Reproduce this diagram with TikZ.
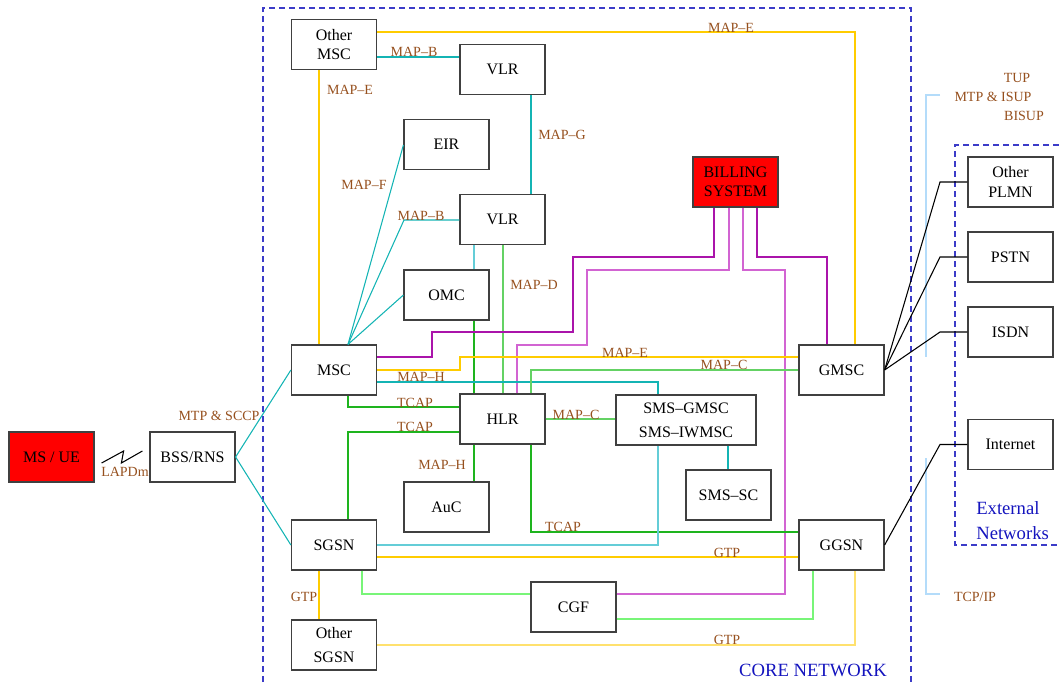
\documentclass[tikz,border=0pt]{standalone}
\usepackage{fontspec}
\setmainfont{Liberation Serif}
\usetikzlibrary{calc}
\definecolor{lbl}{RGB}{150,80,30}
\definecolor{corebl}{RGB}{60,60,200}
\definecolor{txtbl}{RGB}{20,20,190}
\definecolor{yelc}{RGB}{255,204,0}
\definecolor{lyelc}{RGB}{255,225,110}
\definecolor{tealc}{RGB}{20,180,180}
\definecolor{lcyanc}{RGB}{100,205,215}
\definecolor{dgreenc}{RGB}{30,180,30}
\definecolor{lgreenc}{RGB}{100,210,100}
\definecolor{bgreenc}{RGB}{120,245,120}
\definecolor{magc}{RGB}{170,20,170}
\definecolor{lmagc}{RGB}{210,100,210}
\definecolor{brack}{RGB}{180,220,250}
\begin{document}
\begin{tikzpicture}[x=0.75pt,y=-0.75pt,
  box/.style={draw=black!75,line width=0.9pt,fill=white,minimum width=63.75pt,minimum height=37.5pt,inner sep=0pt,align=center,font=\fontsize{12}{14.5}\selectfont},
  redbox/.style={box,fill=red},
  lab/.style={text=lbl,font=\fontsize{10.5}{12}\selectfont,inner sep=0pt},
  bigtxt/.style={text=txtbl,font=\fontsize{14}{19}\selectfont,inner sep=0pt},
  conn/.style={line width=0.8pt},
  yel/.style={conn,draw=yelc},
  lyel/.style={conn,draw=lyelc},
  teal/.style={conn,draw=tealc},
  lcyan/.style={conn,draw=lcyanc},
  dgreen/.style={conn,draw=dgreenc},
  lgreen/.style={conn,draw=lgreenc},
  bgreen/.style={conn,draw=bgreenc},
  mag/.style={conn,draw=magc},
  lmag/.style={conn,draw=lmagc},
  blk/.style={conn,draw=black},
  frame/.style={draw=corebl,line width=0.8pt,dash pattern=on 4.5pt off 3pt},
  bracket/.style={draw=brack,line width=1.5pt}
]
\useasboundingbox (0,0) rectangle (1059,682);

% frames
\draw[frame] (263,682) -- (263,8) -- (911,8) -- (911,682);
\draw[frame] (1059,145) -- (955,145) -- (955,545) -- (1059,545);
\draw[bracket] (940,95) -- (926,95) -- (926,357);
\draw[bracket] (926,458) -- (926,594) -- (940,594);

% nodes
\node[box] (omsc) at (334,44.5) {Other\\MSC};
\node[box] (vlr1) at (502.5,69.5) {VLR};
\node[box] (eir) at (446.5,144.5) {EIR};
\node[box] (vlr2) at (502.5,219.5) {VLR};
\node[box] (omc) at (446.5,295) {OMC};
\node[box] (msc) at (334,370) {MSC};
\node[box] (hlr) at (502.5,419) {HLR};
\node[box,minimum width=105pt,font=\fontsize{12}{18}\selectfont] (smsg) at (686,420) {SMS–GMSC\\SMS–IWMSC};
\node[box] (auc) at (446.5,507) {AuC};
\node[box] (smssc) at (728.5,495) {SMS–SC};
\node[box] (sgsn) at (334,545) {SGSN};
\node[box,font=\fontsize{12}{18.5}\selectfont] (osgsn) at (334,645) {Other\\SGSN};
\node[box] (cgf) at (573.5,607) {CGF};
\node[box] (ggsn) at (841.5,545) {GGSN};
\node[box] (gmsc) at (841.5,370) {GMSC};
\node[redbox] (bill) at (735.5,182) {BILLING\\SYSTEM};
\node[box] (plmn) at (1010.5,182) {Other\\PLMN};
\node[box] (pstn) at (1010.5,257) {PSTN};
\node[box] (isdn) at (1010.5,332) {ISDN};
\node[box] (inet) at (1010.5,444.5) {Internet};
\node[redbox] (msue) at (51.5,457) {MS / UE};
\node[box] (bss) at (192.5,457) {BSS/RNS};

% connectors
\draw[teal] (omsc.east |- 0,57) -- (vlr1.west |- 0,57);
\draw[yel] (omsc.east |- 0,32) -- (855,32) -- (gmsc.north -| 855,0);
\draw[yel] (omsc.south -| 319,0) -- (msc.north -| 319,0);
\draw[teal] (vlr1.south -| 531,0) -- (vlr2.north -| 531,0);
\draw[teal] (msc.north -| 348,0) -- (eir.west |- 0,145);
\draw[teal] (msc.north -| 348,0) -- (404,220) -- (vlr2.west |- 0,220);
\draw[teal] (msc.north -| 348,0) -- (omc.west);
\draw[lcyan] (vlr2.south -| 474,0) -- (omc.north -| 474,0);
\draw[dgreen] (omc.south -| 474,0) -- (hlr.north -| 474,0);
\draw[lgreen] (vlr2.south -| 503,0) -- (hlr.north -| 503,0);
\draw[mag] (msc.east |- 0,357) -- (432,357) -- (432,332) -- (573,332) -- (573,257) -- (714,257) -- (bill.south -| 714,0);
\draw[lmag] (hlr.north -| 517,0) -- (517,345) -- (587,345) -- (587,270) -- (729,270) -- (bill.south -| 729,0);
\draw[lmag] (cgf.east |- 0,594) -- (785,594) -- (785,270) -- (743,270) -- (bill.south -| 743,0);
\draw[mag] (gmsc.north -| 827,0) -- (827,257) -- (757,257) -- (bill.south -| 757,0);
\draw[yel] (msc.east |- 0,370) -- (460,370) -- (460,357) -- (gmsc.west |- 0,357);
\draw[teal] (msc.east |- 0,382) -- (658,382) -- (smsg.north -| 658,0);
\draw[lgreen] (hlr.north -| 531,0) -- (531,370) -- (gmsc.west |- 0,370);
\draw[dgreen] (msc.south -| 348,0) -- (348,407) -- (hlr.west |- 0,407);
\draw[dgreen] (sgsn.north -| 348,0) -- (348,432) -- (hlr.west |- 0,432);
\draw[lgreen] (hlr.east |- 0,419) -- (smsg.west |- 0,419);
\draw[dgreen] (hlr.south -| 474,0) -- (auc.north -| 474,0);
\draw[dgreen] (hlr.south -| 531,0) -- (531,532) -- (ggsn.west |- 0,532);
\draw[lcyan] (sgsn.east |- 0,545) -- (658,545) -- (smsg.south -| 658,0);
\draw[teal] (smsg.south -| 728,0) -- (smssc.north -| 728,0);
\draw[yel] (sgsn.east |- 0,557) -- (ggsn.west |- 0,557);
\draw[bgreen] (sgsn.south -| 362,0) -- (362,594) -- (cgf.west |- 0,594);
\draw[yel] (sgsn.south -| 319,0) -- (osgsn.north -| 319,0);
\draw[lyel] (osgsn.east |- 0,645) -- (855,645) -- (ggsn.south -| 855,0);
\draw[bgreen] (cgf.east |- 0,619) -- (813,619) -- (ggsn.south -| 813,0);
\draw[blk] (gmsc.east) -- (940,182) -- (plmn.west);
\draw[blk] (gmsc.east) -- (940,257) -- (pstn.west);
\draw[blk] (gmsc.east) -- (940,332) -- (isdn.west);
\draw[blk] (ggsn.east) -- (940,444.5) -- (inet.west);
\draw[teal] (bss.east) -- (msc.west);
\draw[teal] (bss.east) -- (sgsn.west);
\draw[blk] ($(msue.east)+(7,6)$) -- ($(msue.east)+(29,-6)$) -- ($(bss.west)+(-28,6)$) -- ($(bss.west)+(-7,-6)$);

% labels
\node[lab] (l1) at (414,52) {MAP–B};
\node[lab] (l2) at (731,28) {MAP–E};
\node[lab] (l3) at (350,90) {MAP–E};
\node[lab] (l4) at (562,135) {MAP–G};
\node[lab] (l5) at (364,185) {MAP–F};
\node[lab] (l6) at (421,216) {MAP–B};
\node[lab] (l7) at (534,285) {MAP–D};
\node[lab] (l8) at (421,377) {MAP–H};
\node[lab] (l9) at (415,403) {TCAP};
\node[lab] (l10) at (415,427) {TCAP};
\node[lab] (l11) at (576,415) {MAP–C};
\node[lab] (l12) at (625,353) {MAP–E};
\node[lab] (l13) at (724,365) {MAP–C};
\node[lab] (l14) at (442,465) {MAP–H};
\node[lab] (l15) at (563,527) {TCAP};
\node[lab] (l16) at (727,553) {GTP};
\node[lab] (l17) at (727,640) {GTP};
\node[lab] (l18) at (304,597) {GTP};
\node[lab] (l19) at (219,416) {MTP \& SCCP};
\node[lab] (l20) at (125,472) {LAPDm};
\node[lab] (l21) at (1017,78) {TUP};
\node[lab] (l22) at (993,97) {MTP \& ISUP};
\node[lab] (l23) at (1024,116) {BISUP};
\node[lab] (l24) at (975,597) {TCP/IP};
\node[bigtxt] (core) at (813,670) {CORE NETWORK};
\node[bigtxt,anchor=west,align=left] (ext) at (976,520.5) {External\\Networks};
\end{tikzpicture}
\end{document}
